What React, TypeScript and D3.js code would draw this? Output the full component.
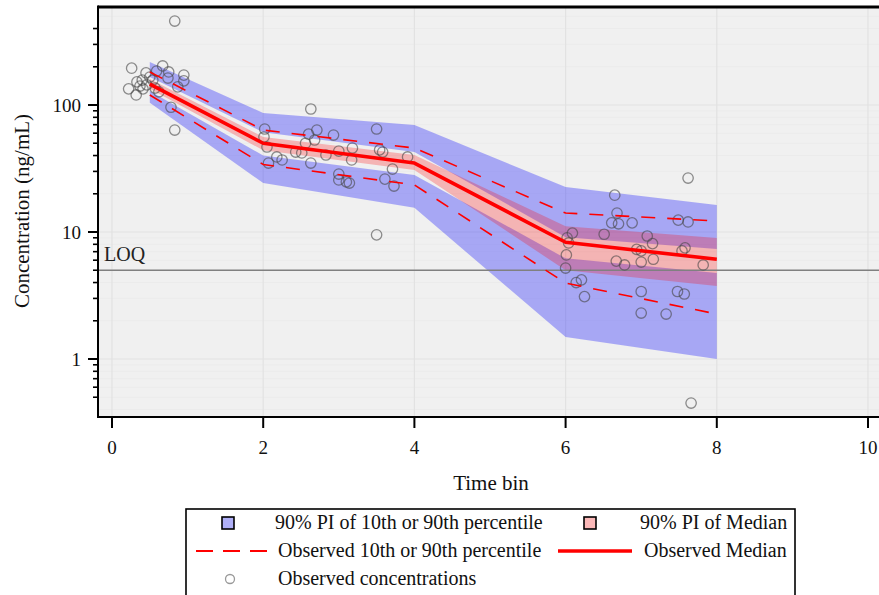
import React from "react";
import * as d3 from "d3";

// ---- data ----
const binTimes = [0.5, 2, 4, 6, 8];
const obsMedian = [146, 50, 34.9, 8.3, 6.1];
const obsP90 = [182, 63.5, 45.8, 14.1, 12.2];
const obsP10 = [120, 34, 23.5, 3.96, 2.26];
const piP90Lo = [166, 61, 42.7, 9.1, 7.35];
const piP90Hi = [218, 86.5, 69.6, 22.6, 16.3];
const piMedLo = [134, 44, 30.8, 5.0, 3.76];
const piMedHi = [160, 56, 40.4, 11.1, 8.97];
const piP10Lo = [104, 24.3, 15.5, 1.49, 1.0];
const piP10Hi = [129, 40, 28.1, 6.2, 4.75];

const obsTime = [
  0.83, 0.26, 0.67, 0.75, 0.95, 0.95, 0.45, 0.59, 0.33, 0.4, 0.22, 0.32, 0.41, 0.46, 0.37, 0.54, 0.57, 0.62, 0.87, 0.78, 0.83, 0.74, 0.5,
  2.63, 2.02, 2.71, 2.6, 2.68, 2.56, 2.93, 3.5, 2.01, 2.05, 2.43, 2.51, 2.83, 3.0, 3.18, 3.17, 2.63, 2.18, 2.25, 2.07, 3.0, 3.0, 3.1, 3.14, 3.54, 3.58, 3.91, 3.71, 3.61, 3.73, 3.5,
  7.62, 6.65, 6.68, 6.61, 6.7, 6.88, 7.49, 7.62, 6.09, 6.02, 6.04, 6.51, 7.08, 7.15, 6.94, 7.0, 7.58, 7.54, 6.01, 6.67, 6.78, 7.0, 7.16, 7.82, 6.0, 6.14, 6.21, 6.25, 7.0, 7.48, 7.57, 7.0, 7.33, 7.66,
];
const obsConc = [
  458, 195, 203, 182, 172, 155, 179, 185, 152, 157, 134, 120, 134, 144, 141, 157, 136, 127, 139, 96, 63.5, 163, 166,
  93, 64.7, 63.5, 59, 53, 50, 58, 64.7, 56, 46.7, 42.6, 41.9, 40.4, 43.4, 45.8, 36.9, 34.9, 39, 36.9, 34.9, 28.6, 25.7, 24.8, 24.3, 44.3, 42.6, 39, 31.3, 26.1, 23, 9.5,
  26.6, 19.5, 14.1, 11.8, 11.6, 11.8, 12.4, 12, 9.8, 9, 8.2, 9.6, 9.3, 8.1, 7.3, 7.1, 7.5, 7.1, 6.6, 5.9, 5.5, 5.8, 6.1, 5.5, 5.2, 4.0, 4.2, 3.1, 3.4, 3.4, 3.25, 2.3, 2.26, 0.45,
];

const loq = 5;
const xTicks = [0, 2, 4, 6, 8, 10];
const yMajorTicks = [1, 10, 100];
const yMinorRange = [0.5, 400];

const legendItems = [
  "90% PI of 10th or 90th percentile",
  "90% PI of Median",
  "Observed 10th or 90th percentile",
  "Observed Median",
  "Observed concentrations",
];

const FONT = "'Liberation Serif', 'Times New Roman', serif";

export default function App() {
  const W = 879, H = 595;
  const pl = 98, pr = 879, pt = 7, pb = 417;
  const x = d3.scaleLinear().domain([0, 10]).range([112, 868]);
  const y = d3.scaleLog().domain([1, 100]).range([359, 105]);

  const idx = binTimes.map((_, i) => i);
  const band = (lo: number[], hi: number[]) =>
    d3.area<number>().x((i) => x(binTimes[i])).y0((i) => y(lo[i])).y1((i) => y(hi[i]))(idx) || "";
  const line = (v: number[]) => d3.line<number>().x((i) => x(binTimes[i])).y((i) => y(v[i]))(idx) || "";

  const allTicks = y.copy().domain([0.3, 600]).ticks();
  const isMajor = (v: number) => yMajorTicks.some((m) => Math.abs(m - v) < 1e-9);
  const minorTicks = allTicks.filter(
    (v) => v >= yMinorRange[0] - 1e-9 && v <= yMinorRange[1] + 1e-9 && !isMajor(v)
  );
  const gridMinor = allTicks.filter((v) => !isMajor(v) && y(v) > pt && y(v) < pb);

  const blue = "rgba(0,0,255,0.3)";
  const pink = "rgba(255,0,0,0.25)";

  const lgTop = 509;
  const rows = [523, 551, 579];

  return (
    <div style={{ position: "absolute", left: 0, top: 0, width: W, height: H, overflow: "hidden", background: "#fff" }}>
      <svg width={W} height={H} style={{ display: "block", fontFamily: FONT }}>
        <defs>
          <clipPath id="plotclip">
            <rect x={pl} y={pt} width={pr - pl} height={pb - pt} />
          </clipPath>
        </defs>
        <rect x={pl} y={pt} width={pr - pl} height={pb - pt} fill="#f0f0f0" />
        {gridMinor.map((v, i) => (
          <line key={"gm" + i} x1={pl} x2={pr} y1={y(v)} y2={y(v)} stroke="#ebebeb" strokeWidth={1} />
        ))}
        {yMajorTicks.map((v) => (
          <line key={"gy" + v} x1={pl} x2={pr} y1={y(v)} y2={y(v)} stroke="#e2e2e2" strokeWidth={1.2} />
        ))}
        {xTicks.map((v) => (
          <line key={"gx" + v} x1={x(v)} x2={x(v)} y1={pt} y2={pb} stroke="#e2e2e2" strokeWidth={1.2} />
        ))}
        <g clipPath="url(#plotclip)">
          <path d={band(piP90Lo, piP90Hi)} fill={blue} />
          <path d={band(piP10Lo, piP10Hi)} fill={blue} />
          <path d={band(piMedLo, piMedHi)} fill={pink} />
          <line x1={pl} x2={pr} y1={y(loq)} y2={y(loq)} stroke="#808080" strokeWidth={1.6} />
          {obsTime.map((t, i) => (
            <circle key={"o" + i} cx={x(t)} cy={y(obsConc[i])} r={5.2} fill="none" stroke="rgba(70,70,70,0.6)" strokeWidth={1.3} />
          ))}
          <path d={line(obsP90)} fill="none" stroke="#ff0000" strokeWidth={1.6} strokeDasharray="14,12" />
          <path d={line(obsP10)} fill="none" stroke="#ff0000" strokeWidth={1.6} strokeDasharray="14,12" />
          <path d={line(obsMedian)} fill="none" stroke="#ff0000" strokeWidth={3.6} strokeLinejoin="round" />
        </g>
        <text x={104} y={y(loq) - 9} fontSize={20} fill="#222">LOQ</text>
        <line x1={pl} x2={pr} y1={pt} y2={pt} stroke="#000" strokeWidth={3} />
        <line x1={pl} x2={pl} y1={pt - 1.5} y2={pb + 1} stroke="#000" strokeWidth={2} />
        <line x1={pl} x2={pr} y1={pb} y2={pb} stroke="#000" strokeWidth={2} />
        {xTicks.map((v) => (
          <g key={"xt" + v}>
            <line x1={x(v)} x2={x(v)} y1={pb} y2={pb + 11} stroke="#000" strokeWidth={2} />
            <text x={x(v)} y={454} fontSize={19} textAnchor="middle" fill="#111">{v}</text>
          </g>
        ))}
        {yMajorTicks.map((v) => (
          <g key={"yt" + v}>
            <line x1={pl - 10} x2={pl} y1={y(v)} y2={y(v)} stroke="#000" strokeWidth={2} />
            <text x={81} y={y(v) + 7} fontSize={19} textAnchor="end" fill="#111">{v}</text>
          </g>
        ))}
        {minorTicks.map((v, i) => (
          <line key={"ym" + i} x1={pl - 5} x2={pl} y1={y(v)} y2={y(v)} stroke="#000" strokeWidth={1.6} />
        ))}
        <text x={491} y={490} fontSize={21} textAnchor="middle" fill="#111">Time bin</text>
        <text transform={`translate(29,211) rotate(-90)`} fontSize={21} textAnchor="middle" fill="#111">
          Concentration (ng/mL)
        </text>
        <rect x={186} y={lgTop} width={609} height={95} fill="#fff" stroke="#000" strokeWidth={1.6} />
        <rect x={222} y={rows[0] - 6} width={12} height={12} fill="#b0b0f8" stroke="#000" strokeWidth={1.6} />
        <text x={275} y={rows[0] + 6} fontSize={20} fill="#111">{legendItems[0]}</text>
        <rect x={584} y={rows[0] - 6} width={12} height={12} fill="#fbb8b8" stroke="#000" strokeWidth={1.6} />
        <text x={640} y={rows[0] + 6} fontSize={20} fill="#111">{legendItems[1]}</text>
        <line x1={196} x2={268} y1={rows[1]} y2={rows[1]} stroke="#ff0000" strokeWidth={1.8} strokeDasharray="17,10" />
        <text x={278} y={rows[1] + 6} fontSize={20} fill="#111">{legendItems[2]}</text>
        <line x1={558} x2={632} y1={rows[1]} y2={rows[1]} stroke="#ff0000" strokeWidth={3.6} />
        <text x={644} y={rows[1] + 6} fontSize={20} fill="#111">{legendItems[3]}</text>
        <circle cx={230} cy={rows[2]} r={4.5} fill="none" stroke="#999" strokeWidth={1.3} />
        <text x={278} y={rows[2] + 6} fontSize={20} fill="#111">{legendItems[4]}</text>
      </svg>
    </div>
  );
}
